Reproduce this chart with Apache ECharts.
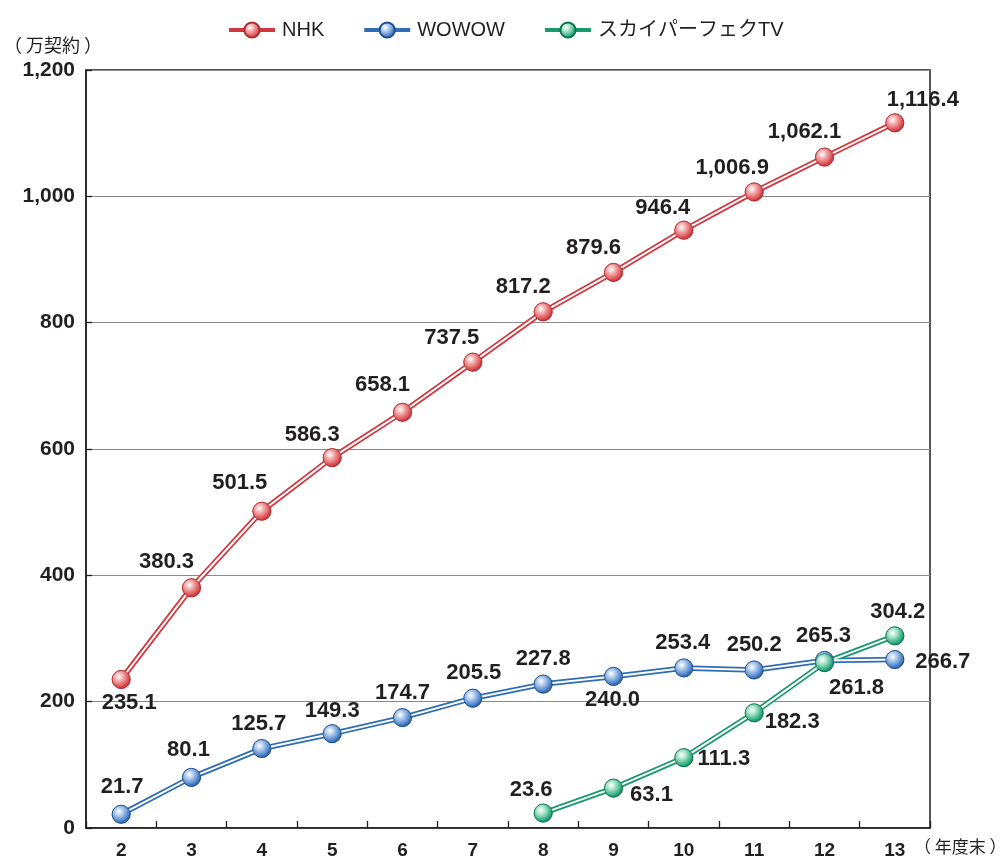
<!DOCTYPE html>
<html><head><meta charset="utf-8">
<script src="https://cdn.jsdelivr.net/npm/echarts@6/dist/echarts.min.js"></script>
<style>html,body{margin:0;padding:0;background:#fff}#c{width:1007px;height:860px}</style>
</head><body><div id="c"></div>
<script>
const years = ['2','3','4','5','6','7','8','9','10','11','12','13'];
const nhk = [235.1,380.3,501.5,586.3,658.1,737.5,817.2,879.6,946.4,1006.9,1062.1,1116.4];
const wowow = [21.7,80.1,125.7,149.3,174.7,205.5,227.8,240.0,253.4,250.2,265.3,266.7];
const sky = [null,null,null,null,null,null,23.6,63.1,111.3,182.3,261.8,304.2];
const yTicks = [0,200,400,600,800,1000,1200];

// label placement (pixel offsets from the point)
const nhkOff = [[8,23],[-25,-26],[-22,-28],[-20,-23],[-20,-27],[-21,-24],[-20,-25],[-20,-24],[-21,-22],[-22,-24],[-20,-25],[28,-23]];
const wowOff = [[1,-27],[-3,-27],[-3,-25],[0,-23],[0,-25],[1,-25],[0,-25],[-1,24],[-1,-25],[0,-25],[-1,-24],[48,2]];
const skyOff = [null,null,null,null,null,null,[-12,-23],[38,7],[40,1],[38,9],[32,25],[3,-24]];

const FONT = '"Liberation Sans", Arial, "Noto Sans CJK JP", sans-serif';
const fmt = v => Number(v).toLocaleString('en-US',{minimumFractionDigits:1,maximumFractionDigits:1});

function ball(light, mid, dark){
  return {type:'radial',x:0.38,y:0.35,r:0.7,colorStops:[
    {offset:0,color:'#ffffff'},{offset:0.35,color:light},{offset:0.8,color:mid},{offset:1,color:dark}]};
}
const styles = {
  NHK:{line:'#d2373d', ball:ball('#f2a7a7','#d9474b','#b82a2f'), border:'#b02a2e'},
  WOWOW:{line:'#2f6db5', ball:ball('#a9c6ec','#3f78c2','#1f5298'), border:'#1f4f92'},
  'スカイパーフェクTV':{line:'#1a9a6c', ball:ball('#a3e2c6','#23a677','#137a53'), border:'#117450'}
};

function makeSeries(name, data, offs){
  const st = styles[name];
  const pts = data.map((v,i)=> v==null ? null : {
    value:v,
    label:{offset:offs[i]}
  });
  return [
    {name:name, type:'line', data:data, z:2, symbol:'circle', symbolSize:18,
     showSymbol:true, connectNulls:false, animation:false,
     lineStyle:{color:st.line, width:5.5},
     itemStyle:{color:st.ball, borderColor:st.border, borderWidth:0.8},
     label:{show:false}},
    {name:name+'_in', type:'line', data:data, z:3, symbol:'none', animation:false, silent:true,
     lineStyle:{color:'#ffffff', width:2}},
    {name:name+'_pt', type:'line', data:pts, z:4, symbol:'circle', symbolSize:18, animation:false,
     lineStyle:{width:0, opacity:0},
     itemStyle:{color:st.ball, borderColor:st.border, borderWidth:0.8},
     label:{show:true, position:'inside', align:'center', verticalAlign:'middle',
       formatter:p=>fmt(p.value), fontFamily:FONT, fontWeight:'bold', fontSize:22, color:'#231f20'}}
  ];
}

const chart = echarts.init(document.getElementById('c'), null, {renderer:'canvas'});
chart.setOption({
  backgroundColor:'#fff',
  animation:false,
  legend:{
    data:['NHK','WOWOW','スカイパーフェクTV'],
    left:222, top:15, itemWidth:46, itemHeight:19, itemGap:38,
    lineStyle:{width:4},
    textStyle:{fontFamily:FONT, fontSize:20, color:'#231f20', padding:[0,0,0,2]}
  },
  grid:{left:86, right:77, top:70, bottom:32, show:true, borderColor:'#231f20', borderWidth:1.5, backgroundColor:'transparent'},
  xAxis:{
    type:'category', data:years, boundaryGap:true,
    axisLine:{lineStyle:{color:'#231f20', width:1.5}},
    axisTick:{show:true, inside:true, length:7, lineStyle:{color:'#231f20', width:1.3}},
    axisLabel:{fontFamily:FONT, fontWeight:'bold', fontSize:19, color:'#231f20', margin:13},
    splitLine:{show:false}
  },
  yAxis:{
    type:'value', min:yTicks[0], max:yTicks[yTicks.length-1], interval:yTicks[1]-yTicks[0],
    axisLine:{show:true, lineStyle:{color:'#231f20', width:1.5}},
    axisTick:{show:true, inside:true, length:6, lineStyle:{color:'#231f20', width:1.3}},
    axisLabel:{fontFamily:FONT, fontWeight:'bold', fontSize:21, color:'#231f20', margin:11,
      formatter:v=>v.toLocaleString('en-US')},
    splitLine:{show:true, lineStyle:{color:'#8a8a8a', width:1}}
  },
  graphic:[
    {type:'text', left:4, top:36, style:{text:'（ 万契約 ）', fontFamily:'"Noto Sans CJK JP", sans-serif', fontSize:18, fill:'#231f20'}},
    {type:'text', left:914, top:838, style:{text:'（ 年度末 ）', fontFamily:'"Noto Sans CJK JP", sans-serif', fontSize:17, fill:'#231f20'}}
  ],
  series:[
    ...makeSeries('NHK', nhk, nhkOff),
    ...makeSeries('WOWOW', wowow, wowOff),
    ...makeSeries('スカイパーフェクTV', sky, skyOff)
  ]
});
</script></body></html>
